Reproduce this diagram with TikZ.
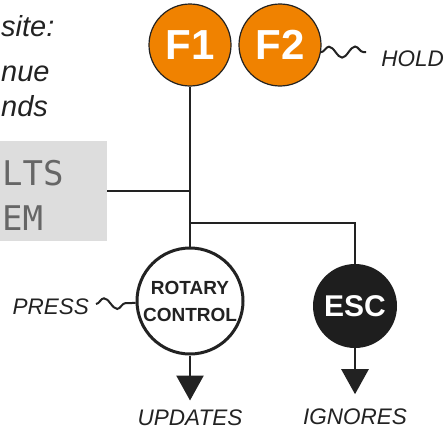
\documentclass[tikz,border=0pt]{standalone}
\usepackage{fontspec}
\setmainfont{Liberation Sans}
\newfontfamily\lcdfont{DejaVu Sans Mono}
\usetikzlibrary{positioning, arrows.meta, decorations.pathmorphing}
\definecolor{keyorange}{HTML}{F08200}
\definecolor{keydark}{HTML}{1E1E1E}
\definecolor{lcdgray}{HTML}{DDDDDD}
\definecolor{inkgray}{HTML}{222222}

\begin{document}
\begin{tikzpicture}[x=1pt, y=-1pt,
  fkey/.style={circle, draw=inkgray, line width=1.2pt, fill=keyorange, minimum size=82pt,
               inner sep=0pt, text=white, font=\fontsize{42}{42}\selectfont\bfseries},
  knob/.style={circle, draw=inkgray, line width=3pt, fill=white, minimum size=106pt,
               inner sep=0pt, align=center, text=inkgray,
               font=\fontsize{19}{27}\selectfont\bfseries},
  esckey/.style={circle, fill=keydark, minimum size=84pt, inner sep=0pt, text=white,
                 font=\fontsize{30}{30}\selectfont\bfseries},
  lcd/.style={fill=lcdgray, minimum width=214pt, minimum height=100pt, inner sep=0pt},
  lcdtxt/.style={inner sep=0pt, text=black!60, font=\lcdfont\fontsize{34}{34}\selectfont},
  note/.style={inner sep=0pt, text=inkgray, font=\fontsize{29}{29}\selectfont\itshape},
  lbl/.style={inner sep=0pt, text=inkgray, font=\fontsize{22.5}{22.5}\selectfont\itshape},
  line/.style={draw=inkgray, line width=2.6pt},
  arr/.style={line, -{Triangle[length=25pt, width=27pt]}},
  wave/.style={draw=inkgray, line width=2pt, decorate,
               decoration={snake, segment length=26pt, amplitude=5.5pt}},
]
\useasboundingbox (0,0) rectangle (446,431);

% Side notes
\node[note, anchor=base west] (n1) at (1,36) {site:};
\node[note, anchor=base west] (n2) at (1,81) {nue};
\node[note, anchor=base west] (n3) at (1,116) {nds};

% Display
\node[lcd] (lcd) at (0,191) {};
\node[lcdtxt, anchor=base west] (lcd1) at (2,185) {LTS};
\node[lcdtxt, anchor=base west] (lcd2) at (2,230) {EM};

% Keys
\node[fkey] (f1) at (190,45) {F1};
\node[fkey] (f2) at (280,45) {F2};
\node[knob] (rotary) at (190,301) {ROTARY\\CONTROL};
\node[esckey] (esc) at (355,306) {ESC};

% Labels
\node[lbl, anchor=east] (hold) at (444,59) {HOLD};
\node[lbl, anchor=east] (press) at (89,307) {PRESS};
\node[lbl, below=54pt of rotary] (upd) {UPDATES};
\node[lbl, below=60pt of esc] (ign) {IGNORES};

\coordinate (jL) at (190,191);
\coordinate (jR) at (190,223);
\coordinate (holdw) at (366,52);
\coordinate (pressE) at (96,304);

% Wiring
\draw[line] (f1) -- (rotary);
\draw[line] (lcd) -- (jL);
\draw[line] (jR) -| (esc);
\draw[arr, shorten >=9pt] (rotary) -- (upd);
\draw[arr, shorten >=14pt] (esc) -- (ign);

% Squiggles
\draw[wave] (f2.-10) -- (holdw);
\draw[wave] (pressE) -- (rotary.182);

\end{tikzpicture}
\end{document}
